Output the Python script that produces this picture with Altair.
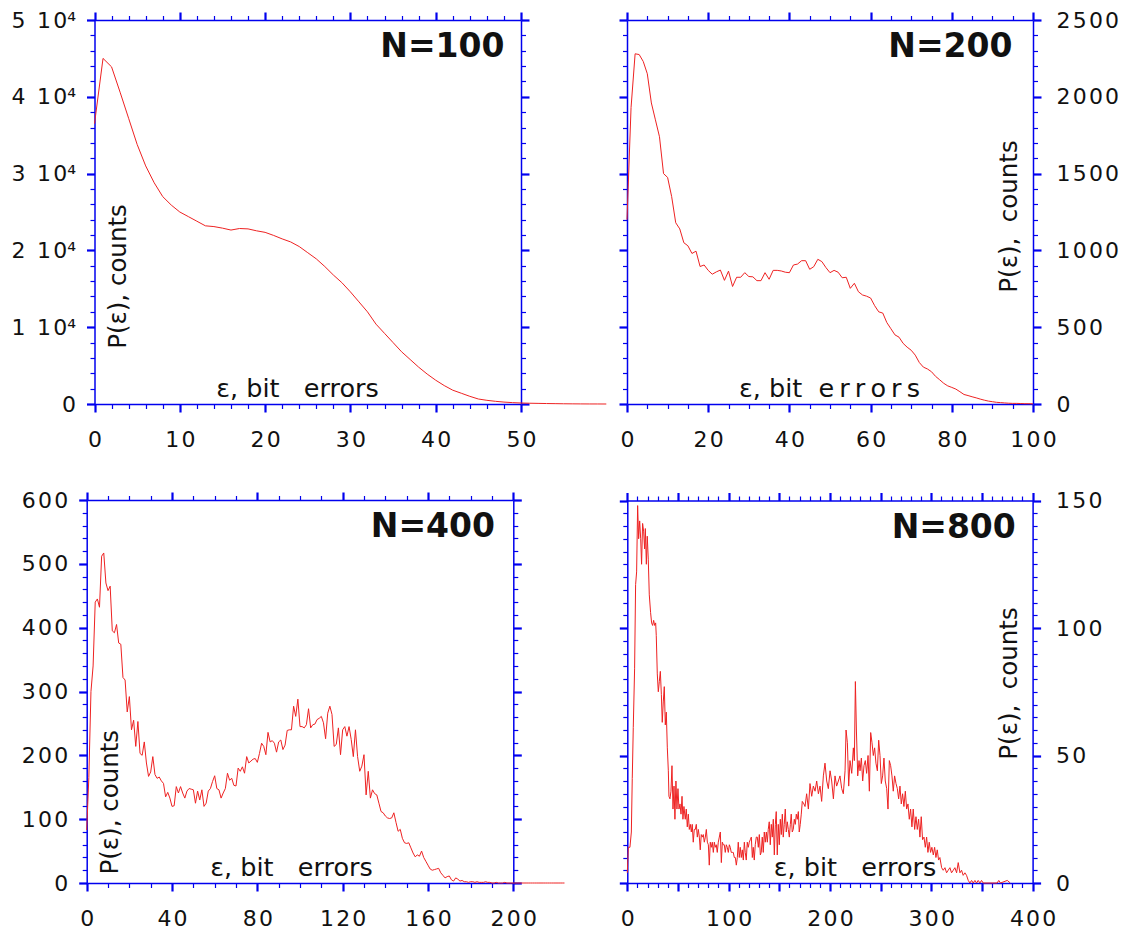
import altair as alt
import pandas as pd

W, H = 1125, 939
BLUE = "#0000ee"
RED = "#ee2222"
INK = "#111111"
FONT = "DejaVu Sans"
THIN = "\u2009"
GAP = "\u200a"
NB = "\u00a0"

# ---------------- data ----------------
n100_x = list(range(0, 61))
n100_y = [36500, 45000, 43900, 40600, 37200, 33800, 31000, 28800, 27000, 25900,
          25000, 24400, 23800, 23200, 23100, 22900, 22650, 22850, 22800, 22550,
          22350, 21950, 21500, 21100, 20500, 19700, 18900, 17900, 16800, 15800,
          14600, 13300, 12000, 10400, 9200, 8000, 6800, 5800, 4800, 3900,
          3100, 2400, 1800, 1400, 1000, 650, 480, 350, 250, 180,
          130, 100, 80, 60, 45, 30, 20, 12, 6, 3, 0]

n200_x = list(range(0, 101))
n200_y = [1200, 1930, 2280, 2275, 2230, 2150, 1960, 1850, 1740, 1500,
          1475, 1350, 1180, 1140, 1050, 1030, 980, 995, 895, 905,
          870, 845, 860, 872, 805, 865, 765, 825, 825, 855,
          830, 828, 803, 803, 855, 812, 870, 870, 866, 858,
          855, 905, 911, 933, 933, 877, 894, 942, 927, 888,
          855, 870, 858, 822, 825, 753, 786, 731, 710, 702,
          690, 640, 600, 592, 530, 490, 450, 435, 395, 370,
          350, 318, 270, 240, 228, 210, 180, 158, 135, 118,
          108, 97, 80, 62, 55, 47, 40, 32, 25, 19,
          15, 11, 9, 7, 5, 4, 4, 3, 2, 2, 1]

n400_x = list(range(0, 225))
n400_y = [83, 165, 300, 340, 440, 445, 432, 512, 517, 470,
          458, 465, 395, 392, 405, 376, 374, 322, 318, 268,
          292, 240, 255, 214, 253, 203, 200, 221, 188, 167,
          174, 198, 170, 164, 166, 160, 156, 135, 142, 133,
          120, 121, 151, 141, 151, 141, 133, 144, 148, 147,
          146, 125, 144, 130, 146, 120, 125, 144, 148, 159,
          168, 148, 146, 133, 141, 148, 172, 161, 164, 153,
          152, 180, 175, 182, 172, 198, 188, 191, 194, 195,
          189, 203, 219, 214, 201, 236, 221, 223, 219, 205,
          221, 224, 209, 216, 239, 240, 240, 277, 261, 288,
          245, 245, 243, 248, 273, 243, 248, 249, 256, 258,
          261, 251, 226, 266, 277, 264, 214, 217, 243, 201,
          240, 245, 230, 245, 225, 198, 240, 198, 175, 183,
          201, 138, 175, 133, 146, 140, 138, 125, 112, 110,
          105, 102, 101, 102, 110, 95, 81, 84, 70, 63,
          62, 63, 55, 47, 41, 44, 42, 50, 40, 34,
          28, 22, 20, 21, 22, 23, 16, 12, 8, 10,
          11, 5, 3, 8, 6, 3, 4, 2, 2, 1,
          2, 2, 1, 2, 1, 1, 1, 2, 1, 1,
          0, 0, 1, 0, 0, 0, 1, 0, 0, 0,
          0, 0, 0, 0, 0, 0, 0, 0, 0, 0,
          0, 0, 0, 0, 0, 0, 0, 0, 0, 0,
          0, 0, 0, 0, 0]

n800_points = [
    (0, 4), (1.0, 14), (2.6, 14), (4.0, 20), (4.9, 41), (5.9, 61), (7.2, 84), (8.2, 117), (9.2, 122), (10.2, 148),
    (11.2, 135), (12.2, 142), (13.2, 135), (14.1, 125), (15.1, 141), (16.1, 138), (17.1, 131), (17.8, 139), (18.8, 125), (19.7, 136),
    (20.7, 127), (21.7, 113), (23.0, 106), (24.0, 102), (25.0, 101), (26.0, 103), (27.0, 101), (28.0, 102), (28.6, 97), (29.6, 82),
    (30.6, 75), (31.6, 79), (32.6, 83), (33.6, 74), (34.5, 63), (35.5, 71), (36.5, 77), (37.5, 62), (38.5, 67), (39.5, 53),
    (40.5, 44), (41.1, 34), (42.1, 33), (43.1, 36), (44.1, 46), (45.1, 29), (46.1, 38), (47.0, 25), (48.0, 40), (49.0, 29),
    (50.0, 37), (51.0, 29), (52.0, 31), (53.0, 27), (54.0, 34), (54.9, 25), (55.9, 30), (57.2, 25), (58.2, 29), (59.2, 22),
    (60.2, 27), (61.2, 21), (62.2, 23), (63.2, 20), (64.1, 23), (65.1, 16), (66.1, 21), (67.1, 21), (68.1, 23), (69.1, 18),
    (70.1, 21), (71.1, 18), (72.0, 13), (73.0, 19), (74.0, 18), (75.0, 19), (76.0, 16), (77.0, 18), (78.0, 21), (79.0, 16),
    (80.0, 15), (80.9, 7), (81.9, 16), (82.9, 14), (83.9, 16), (84.9, 12), (85.9, 16), (86.8, 14), (87.8, 15), (88.8, 12),
    (89.8, 16), (90.8, 18), (91.8, 20), (92.8, 8), (93.8, 16), (94.7, 15), (95.7, 15), (96.7, 12), (97.7, 15), (98.7, 14),
    (99.7, 12), (100.7, 15), (101.6, 14), (102.6, 12), (103.6, 12), (104.6, 12), (105.6, 10), (106.6, 10), (107.6, 7), (108.6, 10),
    (109.5, 16), (110.5, 10), (111.5, 14), (112.5, 10), (113.5, 13), (114.5, 9), (115.5, 16), (116.4, 12), (117.4, 9), (118.4, 16),
    (119.4, 14), (120.4, 16), (121.4, 17), (122.4, 18), (123.4, 10), (124.3, 14), (125.3, 9), (126.3, 15), (127.3, 18), (128.3, 18),
    (129.3, 14), (130.3, 19), (131.3, 11), (132.2, 12), (133.2, 18), (134.2, 12), (135.2, 20), (136.2, 16), (137.2, 20), (138.2, 16),
    (139.1, 21), (140.1, 24), (141.1, 15), (142.1, 23), (143.1, 18), (144.1, 25), (145.1, 11), (146.1, 23), (147.0, 28), (148.0, 11),
    (149.0, 23), (150.0, 15), (151.0, 25), (152.0, 19), (153.0, 27), (153.9, 18), (154.9, 23), (155.9, 29), (156.9, 20), (157.9, 24),
    (158.9, 21), (159.9, 18), (160.9, 23), (161.8, 27), (162.8, 20), (163.8, 21), (164.8, 25), (165.8, 23), (166.8, 27), (167.8, 25),
    (168.8, 28), (169.7, 20), (170.7, 23), (171.7, 27), (172.7, 32), (174.3, 31), (175.4, 30), (177.0, 35), (178.7, 29), (180.3, 39),
    (182.0, 34), (183.6, 38), (185.3, 36), (186.9, 40), (188.6, 35), (190.2, 38), (191.8, 32), (193.5, 42), (195.1, 47), (196.8, 40),
    (198.4, 37), (200.1, 44), (201.7, 40), (203.4, 33), (205.0, 42), (206.6, 38), (208.3, 40), (209.9, 42), (211.6, 37), (213.2, 35),
    (214.9, 44), (215.9, 60), (217.2, 55), (218.5, 38), (219.8, 48), (221.5, 43), (223.1, 53), (224.1, 48), (225.1, 79), (226.1, 60),
    (227.4, 42), (228.7, 48), (229.7, 44), (231.0, 49), (232.3, 40), (233.6, 46), (234.9, 48), (236.2, 43), (237.6, 50), (238.9, 36),
    (240.2, 59), (241.5, 55), (242.8, 50), (244.1, 53), (245.4, 47), (246.8, 44), (248.1, 56), (249.4, 50), (250.7, 39), (252.0, 42),
    (253.3, 49), (254.6, 40), (256.0, 37), (257.3, 29), (258.6, 48), (259.9, 46), (261.2, 42), (262.5, 36), (263.8, 42), (265.2, 39),
    (266.5, 37), (267.8, 33), (269.1, 38), (270.4, 31), (271.7, 35), (273.0, 30), (274.4, 36), (275.7, 29), (277.0, 31), (278.3, 25),
    (279.6, 29), (280.9, 22), (282.2, 29), (283.6, 21), (284.9, 26), (286.2, 21), (287.5, 25), (288.8, 18), (290.1, 26), (291.4, 17),
    (292.8, 18), (294.1, 14), (295.4, 18), (296.7, 12), (298.0, 16), (299.3, 12), (300.6, 14), (302.0, 11), (303.3, 14), (304.6, 10),
    (305.9, 13), (307.2, 9), (308.5, 10), (310.2, 6), (311.8, 5), (313.5, 6), (315.1, 4), (316.7, 5), (318.4, 6), (320.0, 4),
    (321.7, 5), (323.3, 6), (325.0, 4), (326.6, 8), (328.3, 4), (329.9, 5), (331.5, 3), (333.2, 4), (334.8, 3), (336.5, 1),
    (338.1, 0), (339.8, 1), (341.4, 0), (343.1, 1), (344.7, 0), (346.3, 1), (348.0, 0), (349.6, 1), (351.3, 0), (365.0, 0),
    (366.6, 1), (368.3, 0), (375.0, 1), (378.0, 0),
]
n800_x = [p[0] for p in n800_points]
n800_y = [p[1] for p in n800_points]

panel_labels = ["N=100", "N=200", "N=400", "N=800"]
x_titles = ["ε, bit" + NB * 3 + "errors",
            "ε, bit" + NB * 2 + THIN.join("errors"),
            "ε, bit" + NB * 3 + "errors",
            "ε, bit" + NB * 3 + "errors"]
y_titles = ["P(ε), counts", "P(ε)," + NB * 2 + "counts",
            "P(ε), counts", "P(ε)," + NB * 2 + "counts"]

x_domains = [[0, 50], [0, 100], [0, 200], [0, 400]]
y_domains = [[0, 50000], [0, 2500], [0, 600], [0, 150]]
x_tick_values = [list(range(0, 51, 2)), list(range(0, 101, 5)),
                 list(range(0, 201, 10)), list(range(0, 401, 10))]
y_tick_values = [list(range(0, 50001, 2000)), list(range(0, 2501, 100)),
                 list(range(0, 601, 20)), list(range(0, 151, 5))]
x_major = [10, 20, 40, 50]
x_label_step = [10, 20, 40, 100]
y_major = [10000, 500, 100, 50]

# ---------------- layout (pixels) ----------------
boxes = [(94.5, 521.0, 20.0, 404.0), (627.0, 1033.0, 20.0, 404.0),
         (86.7, 513.3, 500.0, 883.0), (627.3, 1032.6, 500.5, 883.0)]
label_side = ["left", "right", "left", "right"]
x_title_cx = [297, 829, 291, 854.5]
y_title_cx = [118.6, 1009, 110, 1009.5]
y_title_cy = [276, 216, 801.7, 683]
n_label_right = [504, 1012, 494.5, 1015.3]


def major_test(step):
    return f"datum.value % {step} === 0"


def spaced_expr(step):
    return (f"datum.value % {step} === 0 ? "
            f"join(split(toString(datum.value), ''), '{GAP}') : ''")


def make_axis(orient, values, major, offset, label_expr=None, label_pad=12, **extra):
    kw = dict(
        orient=orient, values=values, offset=offset, grid=False,
        domainColor=BLUE, domainWidth=1.5, tickColor=BLUE,
        tickSize={"condition": {"test": major_test(major), "value": 8}, "value": 4.5},
        tickWidth={"condition": {"test": major_test(major), "value": 2.2}, "value": 1.2},
        labelFont=FONT, labelFontSize=22, labelColor=INK,
        labelFlush=False, labelOverlap=False, labelPadding=label_pad,
        titleFont=FONT, titleColor=INK, titleFontWeight="normal",
    )
    if label_expr is None:
        kw["labels"] = False
    else:
        kw["labelExpr"] = label_expr
    kw.update(extra)
    if "title" not in kw:
        kw["title"] = None
    return alt.Axis(**kw)


p1_y_labels = (f"datum.value === 0 ? '0' : datum.value % 10000 === 0 ? "
               f"(datum.value / 10000) + '{THIN}{NB}1{GAP}0\u2074' : ''")

series = [(n100_x, n100_y), (n200_x, n200_y), (n400_x, n400_y), (n800_x, n800_y)]

layers = []
for i, (xs, ys) in enumerate(series):
    L, R, T, B = boxes[i]
    df = pd.DataFrame({"x": xs, "y": ys})
    xscale = alt.Scale(domain=x_domains[i], range=[L, R], nice=False, zero=False)
    yscale = alt.Scale(domain=y_domains[i], range=[B, T], nice=False, zero=False)

    x_bottom = make_axis("bottom", x_tick_values[i], x_major[i], B - H,
                         label_expr=spaced_expr(x_label_step[i]), label_pad=17,
                         title=x_titles[i], titleFontSize=25.5, titleX=x_title_cx[i],
                         titleY=-8, titleAlign="center", titleBaseline="alphabetic",
                         titleAngle=0)
    x_top = make_axis("top", x_tick_values[i], x_major[i], -T,
                      title=panel_labels[i], titleFontSize=33, titleFontWeight="bold",
                      titleX=n_label_right[i], titleY=36.7, titleAlign="right",
                      titleBaseline="alphabetic", titleAngle=0)

    ylab = p1_y_labels if i == 0 else spaced_expr(y_major[i])
    if label_side[i] == "left":
        y_left = make_axis("left", y_tick_values[i], y_major[i], -L,
                           label_expr=ylab, label_pad=11,
                           title=y_titles[i], titleFontSize=24.5,
                           titleX=y_title_cx[i] - L, titleY=y_title_cy[i],
                           titleAngle=270, titleAlign="center", titleBaseline="middle")
        y_right = make_axis("right", y_tick_values[i], y_major[i], R - W)
    else:
        y_left = make_axis("left", y_tick_values[i], y_major[i], -L)
        y_right = make_axis("right", y_tick_values[i], y_major[i], R - W,
                            label_expr=ylab, label_pad=15,
                            title=y_titles[i], titleFontSize=24.5,
                            titleX=y_title_cx[i] - R, titleY=y_title_cy[i],
                            titleAngle=270, titleAlign="center", titleBaseline="middle")

    line = alt.Chart(df).mark_line(color=RED, strokeWidth=1, clip=False).encode(
        x=alt.X("x:Q", scale=xscale, axis=x_bottom),
        y=alt.Y("y:Q", scale=yscale, axis=y_left),
    )
    frame = alt.Chart(df).mark_line(opacity=0).encode(
        x=alt.X("x:Q", scale=xscale, axis=x_top),
        y=alt.Y("y:Q", scale=yscale, axis=y_right),
    )
    layers += [line, frame]

chart = alt.layer(*layers).resolve_scale(
    x="independent", y="independent"
).resolve_axis(
    x="independent", y="independent"
).properties(
    width=W, height=H, autosize=alt.AutoSizeParams(type="none"), padding=0,
    background="white",
).configure_view(strokeOpacity=0)

chart.save("out.html", embed_options={"renderer": "svg", "actions": False})
